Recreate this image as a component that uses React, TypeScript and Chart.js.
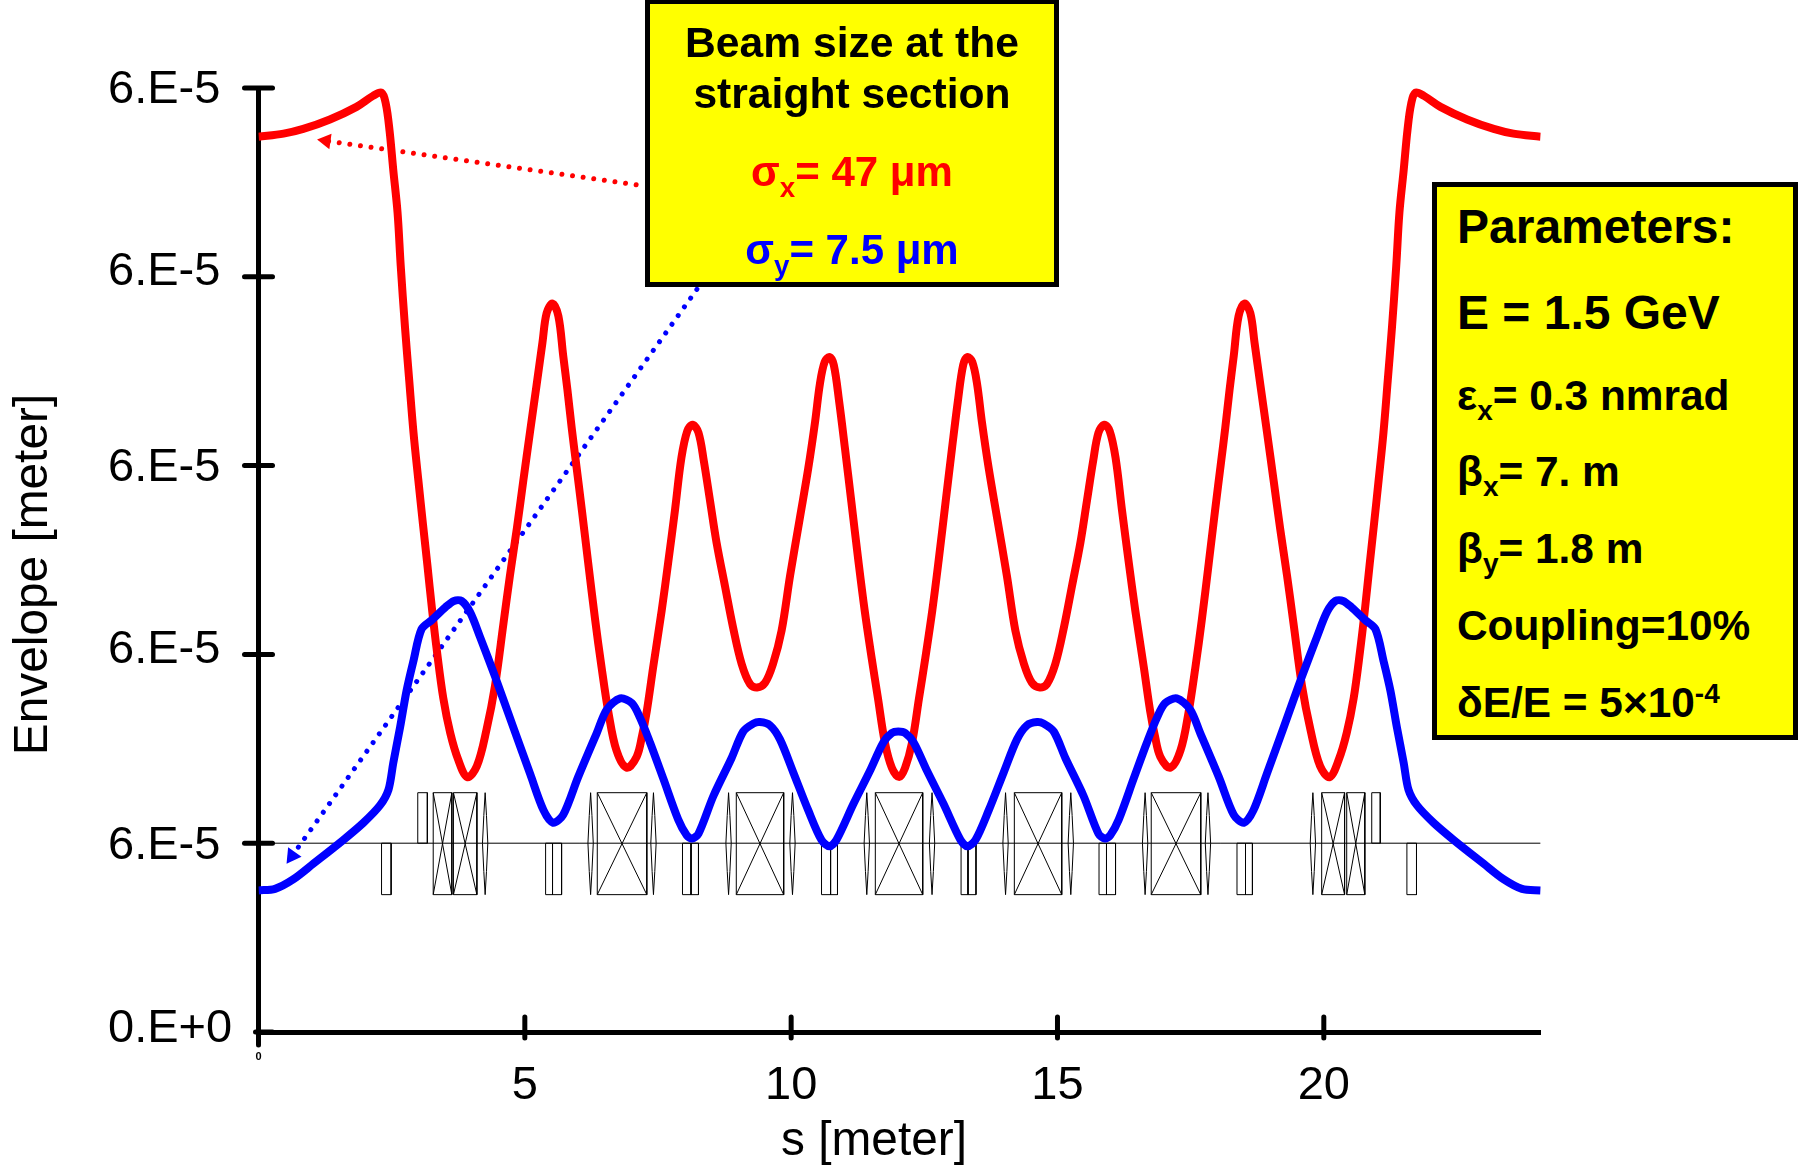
import React, { useEffect, useRef } from "react";
import { Chart, registerables } from "chart.js";

Chart.register(...registerables);

const FONT = '"Liberation Sans", Arial, sans-serif';

// Envelope values are in units of 1e-5 m, s in metres
const redS = [0,.47,.84,1.34,1.84,2.15,2.31,2.39,2.46,2.53,2.61,2.67,2.75,2.83,2.91,3.0,3.09,3.17,3.26,3.35,3.47,3.60,3.75,3.92,4.10,4.28,4.44,4.60,4.72,4.85,4.97,5.10,5.22,5.33,5.41,5.52,5.63,5.72,5.80,5.88,5.96,6.07,6.19,6.32,6.44,6.57,6.72,6.91,7.10,7.20,7.29,7.41,7.57,7.69,7.82,7.94,8.05,8.15,8.26,8.36,8.48,8.60,8.76,8.91,9.07,9.23,9.36,9.51,9.66,9.82,9.98,10.16,10.32,10.45,10.54,10.63,10.72,10.80,10.90,11.01,11.13,11.26,11.38,11.51,11.63,11.76,11.89,12.03,
  12.14,12.27,12.40,12.52,12.65,12.77,12.90,13.02,13.13,13.23,13.31,13.40,13.49,13.58,13.71,13.87,14.05,14.21,14.37,14.52,14.67,14.80,14.96,15.12,15.27,15.43,15.55,15.67,15.77,15.88,15.98,16.09,16.21,16.34,16.46,16.62,16.74,16.83,16.93,17.12,17.31,17.46,17.59,17.71,17.84,17.96,18.07,18.15,18.23,18.31,18.40,18.51,18.62,18.70,18.81,18.93,19.06,19.18,19.31,19.43,19.59,19.75,19.93,20.11,20.28,20.43,20.56,20.68,20.77,20.86,20.94,21.03,21.12,21.20,21.28,21.36,21.42,21.50,21.57,21.64,21.72,21.88,22.19,22.69,23.19,23.56,24.07];
const redValues = [5.69,5.71,5.74,5.80,5.88,5.95,5.97,5.90,5.73,5.48,5.21,4.87,4.48,4.14,3.81,3.51,3.22,2.97,2.68,2.42,2.12,1.90,1.73,1.62,1.69,1.92,2.20,2.60,2.90,3.20,3.50,3.82,4.11,4.38,4.57,4.63,4.55,4.30,4.08,3.84,3.62,3.32,2.98,2.62,2.32,2.03,1.79,1.68,1.75,1.88,2.04,2.32,2.68,2.98,3.32,3.65,3.82,3.86,3.81,3.63,3.37,3.11,2.83,2.57,2.34,2.21,2.19,2.22,2.34,2.55,2.90,3.26,3.58,3.88,4.12,4.26,4.29,4.24,4.01,3.71,3.37,3.0,2.68,2.38,2.12,1.84,1.68,1.62,
  1.68,1.84,2.12,2.38,2.68,3.0,3.37,3.71,4.01,4.24,4.29,4.26,4.12,3.88,3.58,3.26,2.90,2.55,2.34,2.22,2.19,2.21,2.34,2.57,2.83,3.11,3.37,3.63,3.81,3.86,3.82,3.65,3.32,2.98,2.68,2.32,2.04,1.88,1.75,1.68,1.79,2.03,2.32,2.62,2.98,3.32,3.62,3.84,4.08,4.30,4.55,4.63,4.57,4.38,4.11,3.82,3.50,3.20,2.90,2.60,2.20,1.92,1.69,1.62,1.73,1.90,2.12,2.42,2.68,2.97,3.22,3.51,3.81,4.14,4.48,4.87,5.21,5.48,5.73,5.90,5.97,5.95,5.88,5.80,5.74,5.71,5.69];
const blueS = [0,.31,.65,1.03,1.59,1.97,2.28,2.44,2.53,2.66,2.78,2.91,3.06,3.26,3.51,3.67,3.81,3.97,4.16,4.44,4.78,5.10,5.35,5.53,5.72,6.0,6.35,6.54,6.79,7.01,7.16,7.35,7.6,7.88,8.04,8.14,8.26,8.54,8.88,9.10,9.29,9.41,9.60,9.79,10.04,10.32,10.57,10.72,10.85,11.17,11.48,11.73,11.89,12.01,
  12.14,12.30,12.55,12.86,13.18,13.31,13.46,13.71,13.99,14.24,14.43,14.62,14.74,14.93,15.15,15.49,15.77,15.89,15.99,16.15,16.43,16.68,16.87,17.02,17.24,17.49,17.68,18.03,18.31,18.50,18.68,18.93,19.25,19.59,19.87,20.06,20.22,20.36,20.52,20.77,20.97,21.12,21.25,21.37,21.50,21.59,21.75,22.06,22.44,23.0,23.38,23.72,24.07];
const blueValues = [.9,.91,.97,1.07,1.22,1.33,1.44,1.54,1.71,1.94,2.17,2.36,2.56,2.62,2.70,2.74,2.74,2.67,2.51,2.26,1.94,1.64,1.41,1.33,1.38,1.62,1.90,2.05,2.12,2.09,2.0,1.84,1.61,1.35,1.25,1.23,1.26,1.50,1.74,1.91,1.96,1.97,1.95,1.86,1.65,1.41,1.22,1.18,1.22,1.45,1.66,1.84,1.90,1.91,
  1.90,1.84,1.66,1.45,1.22,1.18,1.22,1.41,1.65,1.86,1.95,1.97,1.96,1.91,1.74,1.50,1.26,1.23,1.25,1.35,1.61,1.84,2.0,2.09,2.12,2.05,1.90,1.62,1.38,1.33,1.41,1.64,1.94,2.26,2.51,2.67,2.74,2.74,2.70,2.62,2.56,2.36,2.17,1.94,1.71,1.54,1.44,1.33,1.22,1.07,.97,.91,.9];

// Lattice elements (s positions)
const dipoles = [[3.28,3.63],[3.66,4.10],[6.36,7.29],[8.97,9.86],[11.58,12.47],[14.19,15.08],[16.76,17.69],[19.96,20.39],[20.43,20.77]];
const lenses = [4.255,6.235,7.415,8.825,10.025,11.42,12.645,14.025,15.25,16.645,17.825,19.795];
const boxesUp = [[2.99,3.17],[20.90,21.06]];
const boxesDown = [[2.31,2.49],[5.39,5.52],[5.52,5.69],[7.96,8.12],[8.12,8.26],[10.57,10.74],[10.74,10.87],[13.19,13.32],[13.32,13.47],[15.78,15.92],[15.92,16.09],[18.37,18.53],[18.53,18.66],[21.56,21.74]];
const latticeLevels = { top: 1.521, base: 1.2, bottom: 0.873 };
const lensHalfWidth = 0.05;
const sMax = 24.07;

const redArrow = [{ x: 7.09, y: 5.385 }, { x: 1.267, y: 5.664 }];
const blueArrow = [{ x: 8.23, y: 4.72 }, { x: 0.63, y: 1.119 }];

const xTicks = [0, 5, 10, 15, 20];
const xTickLabels = ["0", "5", "10", "15", "20"];
const yTicks = [0, 1.2, 2.4, 3.6, 4.8, 6];
const yTickLabels = ["0.E+0", "6.E-5", "6.E-5", "6.E-5", "6.E-5", "6.E-5"];
const xLabelNudge = [-8, 0, 0, 0, 0];
const yLabelNudge = [-3, 3, -4, 2.5, -5, 2.5];

function zip(xs: number[], ys: number[]) {
  return xs.map((x, i) => ({ x, y: ys[i] }));
}

function latticePoints() {
  const { top, base, bottom } = latticeLevels;
  const pts: any[] = [{ x: 0, y: base }, { x: sMax, y: base }, { x: 0, y: null }];
  const gap = (x: number) => pts.push({ x, y: null });
  const rect = (a: number, b: number, t: number, o: number) => {
    pts.push({ x: a, y: o }, { x: a, y: t }, { x: b, y: t }, { x: b, y: o }, { x: a, y: o });
    gap(b);
  };
  for (const [a, b] of dipoles) {
    rect(a, b, top, bottom);
    pts.push({ x: a, y: bottom }, { x: b, y: top });
    gap(b);
    pts.push({ x: a, y: top }, { x: b, y: bottom });
    gap(b);
  }
  for (const [a, b] of boxesUp) rect(a, b, top, base);
  for (const [a, b] of boxesDown) rect(a, b, base, bottom);
  const h = top - base;
  const h2 = base - bottom;
  for (const c of lenses) {
    const w = lensHalfWidth;
    pts.push(
      { x: c, y: top }, { x: c + w * 0.5, y: base + h * 0.55 }, { x: c + w, y: base },
      { x: c + w * 0.5, y: base - h2 * 0.55 }, { x: c, y: bottom }, { x: c - w * 0.5, y: base - h2 * 0.55 },
      { x: c - w, y: base }, { x: c - w * 0.5, y: base + h * 0.55 }, { x: c, y: top }
    );
    gap(c);
  }
  return pts;
}

const ticksPlugin = {
  id: "crossTicks",
  beforeDatasetsDraw(chart: any) {
    const { ctx, scales } = chart;
    const xs = scales.x;
    const ys = scales.y;
    ctx.save();
    ctx.strokeStyle = "#000";
    ctx.lineWidth = 5;
    ctx.lineCap = "round";
    for (const v of xTicks) {
      const px = xs.getPixelForValue(v);
      ctx.beginPath();
      ctx.moveTo(px, xs.top - 15);
      ctx.lineTo(px, xs.top + (v === 0 ? 13 : 6));
      ctx.stroke();
    }
    for (const v of yTicks) {
      const py = ys.getPixelForValue(v);
      ctx.beginPath();
      ctx.moveTo(ys.right - (v === 0 ? 3 : 14), py);
      ctx.lineTo(ys.right + 14, py);
      ctx.stroke();
    }
    ctx.restore();
  },
};

function adjustScale(dx: number, dy: number, nudge: number[]) {
  return (scale: any) => {
    if (scale.__adjusted) return;
    scale.__adjusted = true;
    const orig = scale.drawTitle;
    scale.drawTitle = function () {
      this.ctx.save();
      this.ctx.translate(dx, dy);
      orig.call(this);
      this.ctx.restore();
    };
    const origItems = scale._computeLabelItems;
    scale._computeLabelItems = function (area: any) {
      const items = origItems.call(this, area);
      items.forEach((it: any, i: number) => {
        const [tx, ty] = it.options.translation;
        it.options.translation = [tx, ty + (nudge[i] || 0)];
      });
      return items;
    };
  };
}

type Seg = { t: string; sub?: boolean; sup?: boolean };
type Line = { segs: Seg[]; base: number; size: number; color: string; x: number };

const beamLines: Line[] = [
  { segs: [{ t: "Beam size at the" }], base: 57, size: 42.6, color: "#000", x: 852 },
  { segs: [{ t: "straight section" }], base: 108, size: 42.6, color: "#000", x: 852 },
  { segs: [{ t: "σ" }, { t: "x", sub: true }, { t: "= 47 μm" }], base: 187, size: 42, color: "#f00", x: 852 },
  { segs: [{ t: "σ" }, { t: "y", sub: true }, { t: "= 7.5 μm" }], base: 265, size: 42, color: "#00f", x: 852 },
];
const paramLines: Line[] = [
  { segs: [{ t: "Parameters:" }], base: 244, size: 48, color: "#000", x: 1457 },
  { segs: [{ t: "E = 1.5 GeV" }], base: 330, size: 48, color: "#000", x: 1457 },
  { segs: [{ t: "ε" }, { t: "x", sub: true }, { t: "= 0.3 nmrad" }], base: 410, size: 42.4, color: "#000", x: 1457 },
  { segs: [{ t: "β" }, { t: "x", sub: true }, { t: "= 7. m" }], base: 486, size: 42.4, color: "#000", x: 1457 },
  { segs: [{ t: "β" }, { t: "y", sub: true }, { t: "= 1.8 m" }], base: 563, size: 42.4, color: "#000", x: 1457 },
  { segs: [{ t: "Coupling=10%" }], base: 640, size: 42.4, color: "#000", x: 1457 },
  { segs: [{ t: "δE/E = 5×10" }, { t: "-4", sup: true }], base: 717, size: 42.4, color: "#000", x: 1457 },
];

function TextLine({ l, center }: { l: Line; center?: boolean }) {
  const lh = Math.round(l.size * 1.2);
  const top = l.base - ((lh - 1.117 * l.size) / 2 + 0.905 * l.size);
  return (
    <div
      style={{
        position: "absolute",
        top,
        left: center ? l.x - 300 : l.x,
        width: center ? 600 : undefined,
        textAlign: center ? "center" : "left",
        whiteSpace: "nowrap",
        font: `bold ${l.size}px/${lh}px ${FONT}`,
        color: l.color,
      }}
    >
      {l.segs.map((s, i) => (
        <span
          key={i}
          style={
            s.sub
              ? { fontSize: l.size * 0.66, position: "relative", top: l.size * 0.24, lineHeight: 0 }
              : s.sup
              ? { fontSize: l.size * 0.66, position: "relative", top: -l.size * 0.33, lineHeight: 0 }
              : undefined
          }
        >
          {s.t}
        </span>
      ))}
    </div>
  );
}

const boxStyle = (left: number, top: number, width: number, height: number): React.CSSProperties => ({
  position: "absolute",
  left,
  top,
  width,
  height,
  boxSizing: "border-box",
  background: "#ffff00",
  border: "5px solid #000",
});

export default function App() {
  const ref = useRef<HTMLCanvasElement>(null);
  useEffect(() => {
    const chart = new Chart(ref.current as HTMLCanvasElement, {
      type: "line",
      data: {
        datasets: [
          {
            label: "Horizontal envelope",
            data: zip(redS, redValues),
            borderColor: "#f00",
            borderWidth: 8,
            borderJoinStyle: "round",
            pointRadius: 0,
            tension: 0.35,
            order: 2,
          },
          {
            label: "Vertical envelope",
            data: zip(blueS, blueValues),
            borderColor: "#00f",
            borderWidth: 8,
            borderJoinStyle: "round",
            pointRadius: 0,
            tension: 0.3,
            order: 1,
          },
          {
            label: "Lattice",
            data: latticePoints(),
            borderColor: "#000",
            borderWidth: 1,
            pointRadius: 0,
            spanGaps: false,
            order: 4,
          },
          {
            label: "Horizontal arrow",
            data: redArrow,
            borderColor: "#f00",
            backgroundColor: "#f00",
            borderWidth: 5,
            borderDash: [0.01, 10.7],
            borderCapStyle: "round",
            pointStyle: "triangle",
            pointRadius: [0, 9],
            pointBorderWidth: 0,
            pointRotation: 278,
            order: 3,
          },
          {
            label: "Vertical arrow",
            data: blueArrow,
            borderColor: "#00f",
            backgroundColor: "#00f",
            borderWidth: 5,
            borderDash: [0.01, 10.7],
            borderCapStyle: "round",
            pointStyle: "triangle",
            pointRadius: [0, 9.5],
            pointBorderWidth: 0,
            pointRotation: 215.5,
            order: 3,
          },
        ],
      } as any,
      options: {
        responsive: false,
        animation: false,
        parsing: false,
        normalized: true,
        layout: { padding: { left: 108, top: 88, right: 257.4, bottom: 0 } },
        plugins: { legend: { display: false }, tooltip: { enabled: false }, title: { display: false } },
        scales: {
          x: {
            type: "linear",
            min: 0,
            max: sMax,
            afterBuildTicks: (s: any) => { s.ticks = xTicks.map((value) => ({ value })); },
            afterFit: (s: any) => { s.height = 138; adjustScale(-25.5, 2, xLabelNudge)(s); },
            grid: { display: true, drawOnChartArea: false, drawTicks: false, color: "rgba(0,0,0,0)" },
            border: { display: true, color: "#000", width: 5 },
            ticks: {
              autoSkip: false,
              maxRotation: 0,
              padding: 26,
              color: "#000",
              font: (ctx: any) => ctx.tick && ctx.tick.value === 0
                ? { family: FONT, size: 11, weight: "bold" }
                : { family: FONT, size: 47 },
              callback: (_v: any, i: number) => xTickLabels[i],
            },
            title: { display: true, text: "s [meter]", color: "#000", font: { family: FONT, size: 47.8 }, padding: { top: 0, bottom: 1 } },
          },
          y: {
            type: "linear",
            min: 0,
            max: 6,
            afterBuildTicks: (s: any) => { s.ticks = yTicks.map((value) => ({ value })); },
            afterFit: (s: any) => { s.width = 150.5; adjustScale(-107, 14.5, yLabelNudge)(s); },
            grid: { display: true, drawOnChartArea: false, drawTicks: false, color: "rgba(0,0,0,0)" },
            border: { display: true, color: "#000", width: 5 },
            ticks: {
              autoSkip: false,
              crossAlign: "far",
              padding: 38,
              color: "#000",
              font: { family: FONT, size: 47 },
              callback: (_v: any, i: number) => yTickLabels[i],
            },
            title: { display: true, text: "Envelope [meter]", color: "#000", font: { family: FONT, size: 47.8 }, padding: { top: 4, bottom: 0 } },
          },
        },
      } as any,
      plugins: [ticksPlugin],
    });
    return () => chart.destroy();
  }, []);

  return (
    <div style={{ position: "absolute", left: 0, top: 0, width: 1798, height: 1170, background: "#fff", overflow: "hidden" }}>
      <canvas ref={ref} width={1798} height={1170} style={{ position: "absolute", left: 0, top: 0, display: "block" }} />
      <div style={boxStyle(645, -1, 414, 288)} />
      <div style={boxStyle(1432, 182, 366, 558)} />
      {beamLines.map((l, i) => <TextLine key={i} l={l} center />)}
      {paramLines.map((l, i) => <TextLine key={i} l={l} />)}
    </div>
  );
}
